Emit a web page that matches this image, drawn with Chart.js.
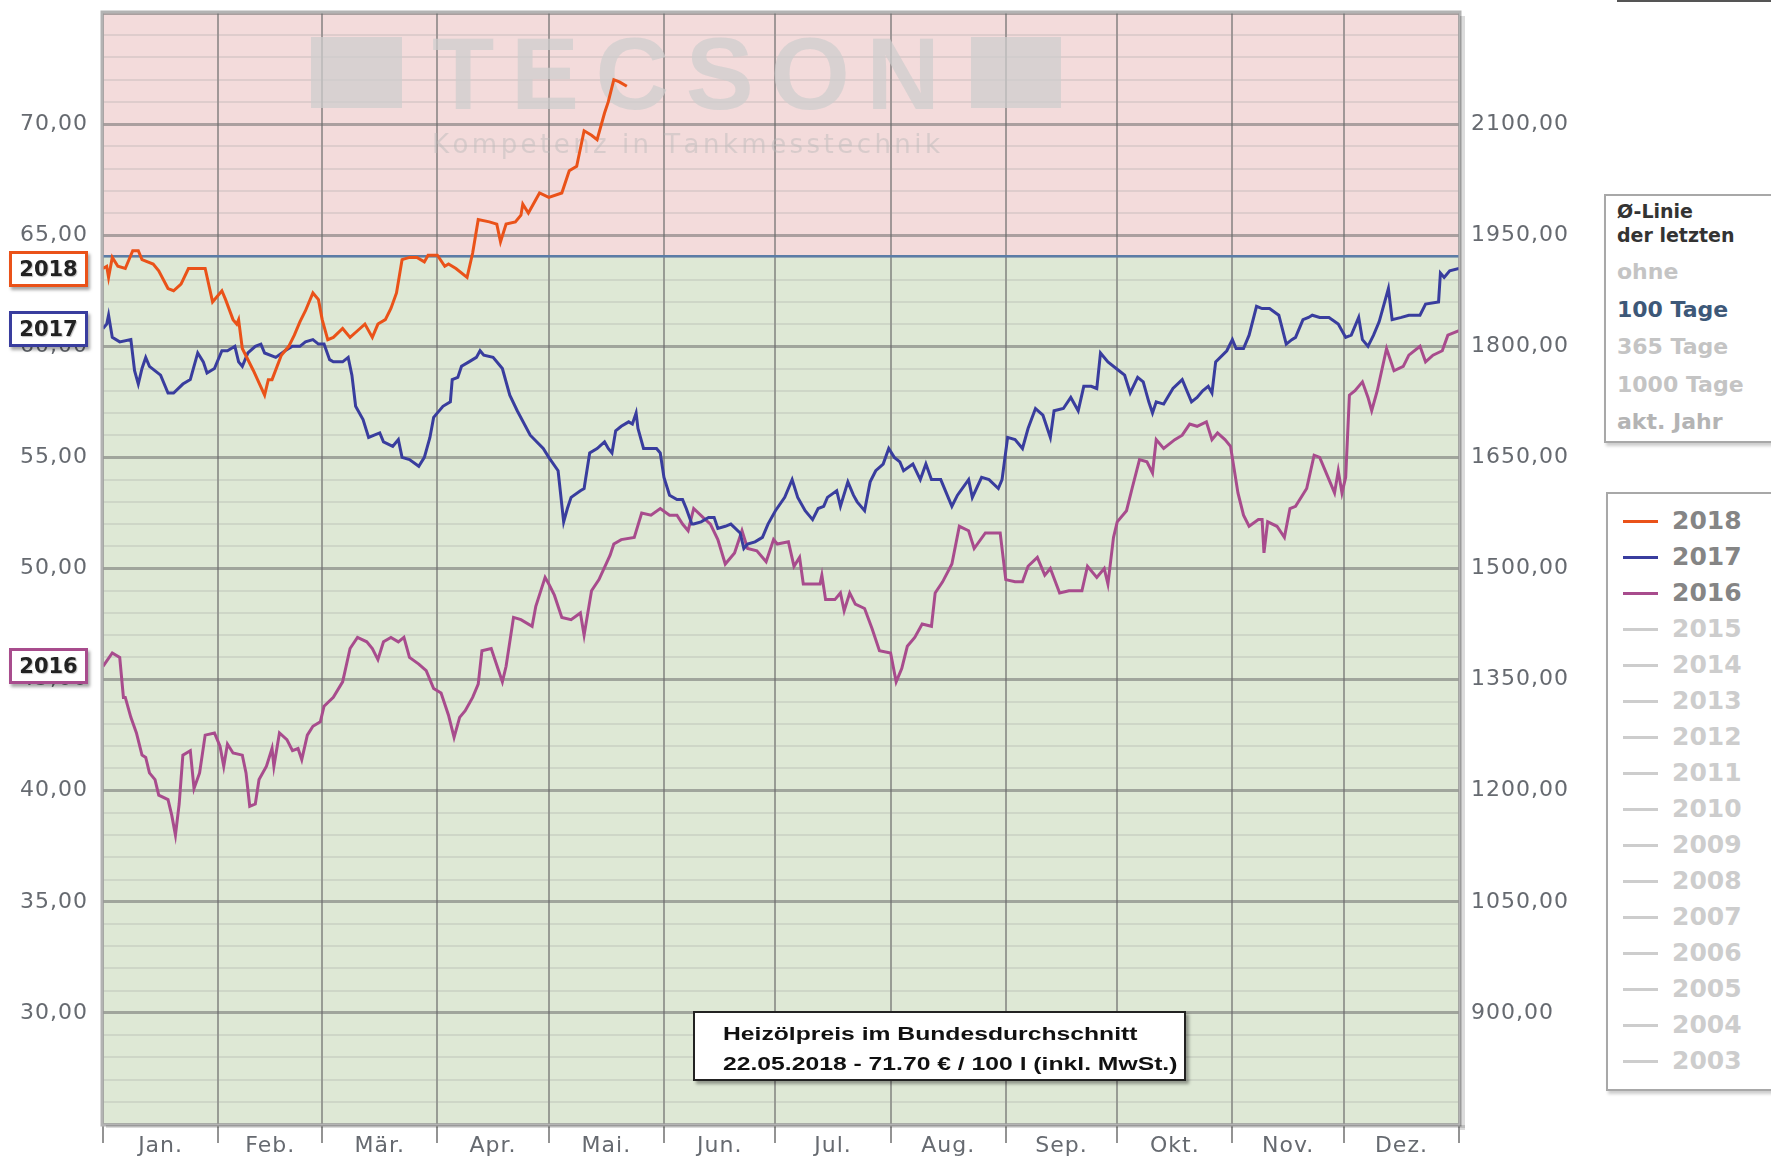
<!DOCTYPE html>
<html lang="de">
<head>
<meta charset="utf-8">
<title>Heizölpreis im Bundesdurchschnitt</title>
<script src="https://cdn.jsdelivr.net/npm/chart.js@4.4.1/dist/chart.umd.min.js"></script>
<style>
    html, body { margin: 0; padding: 0; background: #fff; width: 1771px; height: 1157px; overflow: hidden; font-family: "DejaVu Sans", Verdana, sans-serif; }
    #chart { position: absolute; left: 0; top: 0; }
    .yearTag { position: absolute; left: 9px; width: 79px; height: 36px; box-sizing: border-box; border: 3px solid; background: #fff; color: #222; font: bold 21px "DejaVu Sans", sans-serif; line-height: 30px; text-align: center; box-shadow: 2px 3px 3px rgba(0,0,0,0.35); text-shadow: 1px 1px 1px rgba(0,0,0,0.25); }
    .panel { position: absolute; width: 220px; box-sizing: border-box; border: 2px solid #a8a8a8; background: #fff; box-shadow: 2px 3px 3px rgba(0,0,0,0.2); }
    .panel div { position: absolute; white-space: nowrap; }
    .ph { left: 11px; font: bold 19px "DejaVu Sans", sans-serif; color: #333; line-height: 24px; }
    .pi { left: 11px; font: bold 22px "DejaVu Sans", sans-serif; color: #c4c4c4; line-height: 24px; }
    .ly { left: 64px; font: bold 25px "DejaVu Sans", sans-serif; color: #cdcdcd; line-height: 30px; }
    .ll { left: 15px; width: 35px; height: 3px; background: #cdcdcd; }
    #info { position: absolute; left: 693px; top: 1011px; width: 493px; height: 70px; box-sizing: border-box; border: 2px solid #222; background: #fff; box-shadow: 3px 3px 3px rgba(0,0,0,0.35); }
    #info div { position: absolute; left: 28px; font: bold 19px "Liberation Sans", Arial, sans-serif; color: #111; line-height: 24px; white-space: nowrap; transform: scaleX(1.3); transform-origin: left center; }
    #topbar { position: absolute; left: 1617px; top: 0; width: 154px; height: 2px; background: #555; }
</style>
</head>
<body>
<canvas id="chart" width="1600" height="1157"></canvas>
<div id="topbar"></div>
<div id="info">
    <div style="top:9px">Heizölpreis im Bundesdurchschnitt</div>
    <div style="top:39px">22.05.2018 - 71.70 € / 100 l (inkl. MwSt.)</div>
</div>
<div class="panel" id="avgPanel" style="left:1604px; top:194px; height:249px;"></div>
<div class="panel" id="yearPanel" style="left:1606px; top:492px; height:599px;"></div>
<script>
// Heizölpreis (€/100 l) per day of year
const monthNames = ['Jan.', 'Feb.', 'Mär.', 'Apr.', 'Mai.', 'Jun.', 'Jul.', 'Aug.', 'Sep.', 'Okt.', 'Nov.', 'Dez.'];
const monthStarts = [0, 31, 59, 90, 120, 151, 181, 212, 243, 273, 304, 334, 365];
const leftTicks = [30, 35, 40, 45, 50, 55, 60, 65, 70];
const rightTicks = [900, 1050, 1200, 1350, 1500, 1650, 1800, 1950, 2100];

// Ø-Linie der letzten 100 Tage
const avgLine = [64.05];

const days2018 = [0, 1, 1.5, 2.5, 4, 6, 8, 9.5, 10.5, 13.5,
    15, 17.5, 19, 21, 23, 25.5, 27.5, 29.5, 30.5, 32,
    33, 35, 36, 36.5, 37.5, 40.5, 43.5, 44.5, 45.5, 48,
    50, 51.5, 53, 54.5, 56.5, 58, 59, 60.5, 62, 64.5,
    66.5, 68.5, 70.5, 72.5, 74, 76, 77.5, 79, 80.5, 82.5,
    84.5, 86.5, 87.5, 90, 92, 93, 95, 98, 99.5, 101,
    104, 106, 107, 108.5, 111, 112.5, 113, 114.5, 117.5, 120,
    123.5, 125.5, 127.5, 129.5, 131.5, 133, 135, 136, 137.5, 139,
    141];
const vals2018 = [63.5, 63.6, 63.1, 64.0, 63.6, 63.5, 64.3, 64.3, 63.9, 63.7,
    63.4, 62.6, 62.5, 62.8, 63.5, 63.5, 63.5, 62.0, 62.2, 62.5,
    62.1, 61.2, 61.0, 61.2, 59.9, 58.9, 57.8, 58.5, 58.5, 59.6,
    60.0, 60.5, 61.1, 61.6, 62.4, 62.1, 61.2, 60.3, 60.4, 60.8,
    60.4, 60.7, 61.0, 60.4, 61.0, 61.2, 61.7, 62.4, 63.9, 64.0,
    64.0, 63.8, 64.1, 64.1, 63.6, 63.7, 63.5, 63.1, 64.2, 65.7,
    65.6, 65.5, 64.7, 65.5, 65.6, 65.9, 66.4, 66.0, 66.9, 66.7,
    66.9, 67.9, 68.1, 69.7, 69.5, 69.3, 70.5, 71.0, 72.0, 71.9,
    71.7];

const days2017 = [0, 1, 1.5, 2.5, 4.5, 7.5, 8.5, 9.5, 10.5, 11.5,
    12.5, 15.5, 17.5, 19, 21.5, 23.5, 24, 25.5, 27, 28,
    30, 32, 33.5, 35.5, 36.5, 37.5, 39, 41, 42.5, 43.5,
    46.5, 49, 51, 53, 54.5, 56.5, 58, 59.5, 61, 62,
    64.5, 66, 67, 68, 70, 71.5, 73, 74.5, 75.5, 78,
    79.5, 80.5, 82.5, 85, 86.5, 88, 89, 91.5, 93.5, 94,
    95.5, 96.5, 98.5, 100.5, 101.5, 102.5, 105, 107.5, 109.5, 111.5,
    115, 118.5, 120, 122.5, 124, 125, 126, 128.5, 129.5, 131,
    133, 135, 136, 137, 138, 139.5, 141.5, 142.5, 143.5, 144,
    145.5, 147, 149, 150, 151, 152.5, 154.5, 156, 157, 158.5,
    159, 161, 163, 164.5, 165.5, 167.5, 169, 171.5, 172.5, 173.5,
    175.5, 177.5, 179, 181, 183.5, 185.5, 187, 189, 191, 192.5,
    194, 195, 197.5, 198.5, 200.5, 202, 203, 205, 206.5, 208,
    210, 211.5, 213, 214.5, 215.5, 218, 220, 221.5, 223, 225.5,
    228.5, 230, 233, 234, 236.5, 238.5, 241, 242, 243.5, 245.5,
    247.5, 249, 251, 253, 255, 256, 258.5, 260.5, 262.5, 264,
    266, 267.5, 268.5, 270.5, 273.5, 275, 276.5, 278.5, 280, 281.5,
    282.5, 283.5, 285.5, 288, 290.5, 293, 294.5, 296, 297.5, 298.5,
    299.5, 302.5, 304, 305, 307, 308.5, 310.5, 312, 314, 316.5,
    318.5, 320, 321, 323, 324.5, 325.5, 327.5, 330, 332.5, 334.5,
    336, 338, 339, 340.5, 342, 343.5, 346, 347, 349.5, 351.5,
    354.5, 356, 359.5, 360, 361, 362.5, 365];
const vals2017 = [60.8, 61.0, 61.4, 60.4, 60.2, 60.3, 58.9, 58.3, 59.0, 59.5,
    59.1, 58.7, 57.9, 57.9, 58.3, 58.5, 58.8, 59.7, 59.3, 58.8,
    59.0, 59.8, 59.8, 60.0, 59.3, 59.1, 59.7, 60.0, 60.1, 59.7,
    59.5, 59.8, 60.0, 60.0, 60.2, 60.3, 60.1, 60.1, 59.4, 59.3,
    59.3, 59.5, 58.7, 57.3, 56.7, 55.9, 56.0, 56.1, 55.7, 55.5,
    55.8, 55.0, 54.9, 54.6, 55.0, 55.9, 56.8, 57.3, 57.5, 58.5,
    58.6, 59.1, 59.3, 59.5, 59.8, 59.6, 59.5, 59.0, 57.8, 57.1,
    56.0, 55.4, 55.0, 54.4, 52.1, 52.7, 53.2, 53.5, 53.6, 55.2,
    55.4, 55.7, 55.4, 55.2, 56.2, 56.4, 56.6, 56.5, 57.0, 56.3,
    55.4, 55.4, 55.4, 55.2, 54.1, 53.3, 53.1, 53.1, 52.7, 52.0,
    52.0, 52.1, 52.3, 52.3, 51.8, 51.9, 52.0, 51.6, 50.9, 51.1,
    51.2, 51.4, 52.0, 52.6, 53.2, 54.0, 53.2, 52.6, 52.2, 52.7,
    52.8, 53.2, 53.5, 52.8, 53.9, 53.3, 53.0, 52.6, 53.9, 54.4,
    54.7, 55.4, 55.0, 54.8, 54.4, 54.7, 54.0, 54.7, 54.0, 54.0,
    52.8, 53.3, 54.0, 53.2, 54.1, 54.0, 53.6, 54.0, 55.9, 55.8,
    55.4, 56.3, 57.2, 56.9, 55.9, 57.1, 57.2, 57.7, 57.1, 58.2,
    58.2, 58.1, 59.7, 59.3, 58.9, 58.7, 57.9, 58.6, 58.4, 57.5,
    57.0, 57.5, 57.4, 58.1, 58.5, 57.5, 57.7, 58.0, 58.2, 57.9,
    59.3, 59.8, 60.3, 59.9, 59.9, 60.5, 61.8, 61.7, 61.7, 61.4,
    60.1, 60.3, 60.4, 61.2, 61.3, 61.4, 61.3, 61.3, 61.0, 60.4,
    60.5, 61.3, 60.3, 60.0, 60.5, 61.1, 62.6, 61.2, 61.3, 61.4,
    61.4, 61.9, 62.0, 63.3, 63.1, 63.4, 63.5];

const days2016 = [0, 2.5, 4.5, 5.5, 6, 7.5, 9, 10.5, 11.5, 12.5,
    14, 15, 17.5, 18.5, 19.5, 20.5, 21.5, 23.5, 24.5, 26,
    27.5, 30, 31.5, 32.5, 33.5, 35, 37.5, 38.5, 39.5, 41,
    42, 44, 45.5, 46, 47.5, 49.5, 51, 52.5, 53.5, 55,
    56.5, 58.5, 59.5, 62, 64.5, 66.5, 68.5, 71, 72.5, 74,
    75.5, 77.5, 79.5, 81, 82.5, 85, 87, 89, 91, 93,
    94.5, 96, 97.5, 99.5, 101, 102, 104.5, 106.5, 107.5, 108.5,
    110.5, 112.5, 115.5, 116.5, 119, 120, 121.5, 123.5, 126, 128.5,
    129.5, 131.5, 133.5, 136.5, 137.5, 139.5, 143, 145, 147.5, 150,
    152.5, 154.5, 156, 157.5, 159, 161.5, 163.5, 165.5, 167.5, 170,
    172, 173.5, 176, 178.5, 180.5, 181.5, 184.5, 186, 187.5, 188.5,
    191, 193, 193.5, 194.5, 197, 198.5, 199.5, 201, 202.5, 205,
    207, 209, 212, 213.5, 215, 216.5, 218.5, 220.5, 223, 224,
    226, 228.5, 230.5, 233, 234.5, 237.5, 241.5, 243, 245.5, 247.5,
    249, 251.5, 253.5, 255, 257.5, 260, 263.5, 265, 267.5, 269.5,
    270.5, 272, 273, 275.5, 277, 279, 281, 282.5, 283.5, 285.5,
    288.5, 290.5, 292.5, 294.5, 297, 298.5, 300, 302, 303.5, 305.5,
    307, 308.5, 311, 312, 312.5, 313.5, 316, 318, 319.5, 321,
    324, 326, 327.5, 329.5, 331.5, 332.5, 333.5, 334.5, 335.5, 337,
    339, 340.5, 341.5, 343, 345.5, 347.5, 350, 351.5, 354.5, 356,
    358, 360.5, 362, 365];
const vals2016 = [45.6, 46.2, 46.0, 44.2, 44.2, 43.3, 42.6, 41.6, 41.5, 40.8,
    40.5, 39.8, 39.6, 38.9, 38.0, 39.4, 41.6, 41.8, 40.1, 40.8,
    42.5, 42.6, 42.0, 41.1, 42.1, 41.7, 41.6, 40.8, 39.3, 39.4,
    40.5, 41.1, 41.9, 41.1, 42.6, 42.3, 41.8, 41.9, 41.4, 42.5,
    42.9, 43.1, 43.8, 44.2, 44.9, 46.4, 46.9, 46.7, 46.4, 45.9,
    46.7, 46.9, 46.7, 46.9, 46.0, 45.7, 45.4, 44.6, 44.4, 43.4,
    42.4, 43.3, 43.6, 44.2, 44.8, 46.3, 46.4, 45.4, 44.9, 45.6,
    47.8, 47.7, 47.4, 48.3, 49.6, 49.3, 48.8, 47.8, 47.7, 48.0,
    47.0, 49.0, 49.5, 50.6, 51.1, 51.3, 51.4, 52.5, 52.4, 52.7,
    52.4, 52.4, 52.0, 51.7, 52.7, 52.3, 52.0, 51.3, 50.2, 50.7,
    51.7, 50.9, 50.8, 50.3, 51.3, 51.1, 51.2, 50.1, 50.5, 49.3,
    49.3, 49.3, 49.7, 48.6, 48.6, 48.9, 48.1, 48.9, 48.4, 48.2,
    47.3, 46.3, 46.2, 44.9, 45.5, 46.5, 46.9, 47.5, 47.4, 48.9,
    49.4, 50.2, 51.9, 51.7, 50.9, 51.6, 51.6, 49.5, 49.4, 49.4,
    50.1, 50.5, 49.7, 50.0, 48.9, 49.0, 49.0, 50.1, 49.6, 50.0,
    49.3, 51.4, 52.1, 52.6, 53.6, 54.9, 54.8, 54.3, 55.8, 55.4,
    55.8, 56.0, 56.5, 56.4, 56.6, 55.8, 56.1, 55.8, 55.5, 53.4,
    52.4, 51.9, 52.2, 52.2, 50.7, 52.1, 51.9, 51.4, 52.7, 52.8,
    53.6, 55.1, 55.0, 54.2, 53.4, 54.4, 53.4, 54.1, 57.8, 58.0,
    58.4, 57.7, 57.1, 58.0, 59.9, 58.9, 59.1, 59.6, 60.0, 59.3,
    59.6, 59.8, 60.5, 60.7];

// Legend lists
const legendYears = ['2018', '2017', '2016', '2015', '2014', '2013', '2012', '2011', '2010', '2009', '2008', '2007', '2006', '2005', '2004', '2003'];
const avgOptions = ['ohne', '100 Tage', '365 Tage', '1000 Tage', 'akt. Jahr'];

const COLORS = { '2018': '#ea5219', '2017': '#393d9e', '2016': '#a84c8d' };
const AVG_COLOR = '#5b7ca6';

const fmt = v => v.toFixed(2).replace('.', ',');
const toPoints = (days, vals) => days.map((d, i) => ({ x: d, y: vals[i] }));

// Draws text spread out to a given width (watermark)
function drawSpaced(ctx, text, font, x, y, width) {
    ctx.font = font;
    ctx.letterSpacing = '0px';
    ctx.textAlign = 'left';
    ctx.textBaseline = 'alphabetic';
    const chars = [...text];
    const widths = chars.map(c => ctx.measureText(c).width);
    const total = widths.reduce((s, w) => s + w, 0);
    const gap = (width - total) / (chars.length - 1);
    chars.forEach((c, i) => {
        ctx.fillText(c, x, y);
        x += widths[i] + gap;
    });
}

const tecsonPlugin = {
    id: 'tecson',
    beforeDraw(chart) {
        const { ctx, chartArea: a, scales } = chart;
        const yAvg = scales.y.getPixelForValue(avgLine[0]);
        ctx.save();
        ctx.fillStyle = '#f3dbdb';
        ctx.fillRect(a.left, a.top, a.width, yAvg - a.top);
        ctx.fillStyle = '#dee8d5';
        ctx.fillRect(a.left, yAvg, a.width, a.bottom - yAvg);
        ctx.restore();
        ctx.letterSpacing = '1px';
    },
    beforeDatasetsDraw(chart) {
        const ctx = chart.ctx;
        ctx.save();
        ctx.fillStyle = 'rgba(205,205,205,0.72)';
        ctx.fillRect(311, 37, 91, 71);
        ctx.fillRect(971, 37, 90, 71);
        drawSpaced(ctx, 'TECSON', 'bold 102px "Liberation Sans", Arial, sans-serif', 432, 109, 508);
        ctx.fillStyle = 'rgba(185,185,185,0.45)';
        drawSpaced(ctx, 'Kompetenz in Tankmesstechnik', '26px "DejaVu Sans", sans-serif', 432, 153, 508);
        ctx.restore();
        ctx.letterSpacing = '1px';
    },
    afterDraw(chart) {
        const { ctx, chartArea: a } = chart;
        ctx.save();
        ctx.strokeStyle = '#b3b3b3';
        ctx.lineWidth = 3;
        ctx.strokeRect(a.left - 1, a.top - 1, a.width + 2, a.height + 2);
        ctx.fillStyle = 'rgba(0,0,0,0.14)';
        ctx.fillRect(a.right + 1, a.top + 3, 5, a.height + 3);
        ctx.fillRect(a.left + 3, a.bottom + 1, a.width + 3, 3);
        ctx.restore();
    }
};

const lineStyle = color => ({
    borderColor: color,
    backgroundColor: color,
    borderWidth: 3,
    pointRadius: 0,
    showLine: true,
    tension: 0,
    fill: false
});

const chart = new Chart(document.getElementById('chart'), {
    type: 'scatter',
    data: {
        datasets: [
            { label: '2018', data: toPoints(days2018, vals2018), ...lineStyle(COLORS['2018']) },
            { label: '2017', data: toPoints(days2017, vals2017), ...lineStyle(COLORS['2017']) },
            { label: '2016', data: toPoints(days2016, vals2016), ...lineStyle(COLORS['2016']) },
            {
                label: 'Ø 100 Tage',
                data: [{ x: monthStarts[0], y: avgLine[0] }, { x: monthStarts[12], y: avgLine[0] }],
                ...lineStyle(AVG_COLOR),
                borderWidth: 2.5
            }
        ]
    },
    options: {
        responsive: false,
        animation: false,
        events: [],
        layout: { padding: { top: 13, left: 0, right: 0, bottom: 0 } },
        plugins: { legend: { display: false }, tooltip: { enabled: false } },
        scales: {
            x: {
                type: 'linear',
                position: 'bottom',
                min: 0,
                max: 365,
                afterBuildTicks: s => { s.ticks = monthStarts.map(v => ({ value: v })); },
                // tick marks still run 19px below the plot; the box is kept short so the month labels fit
                afterFit: s => { s.height = 8; s.paddingLeft = 0; s.paddingRight = 0; },
                ticks: { display: false },
                grid: { color: 'rgba(105,105,105,0.6)', lineWidth: 2, drawTicks: true, tickLength: 19, tickColor: 'rgba(120,120,120,0.8)', tickWidth: 2 },
                border: { display: false }
            },
            xMonths: {
                type: 'linear',
                position: 'bottom',
                min: 0,
                max: 365,
                afterBuildTicks: s => {
                    s.ticks = monthNames.map((m, i) => ({ value: (monthStarts[i] + monthStarts[i + 1]) / 2 }));
                },
                afterFit: s => { s.height = 25; s.paddingLeft = 0; s.paddingRight = 0; },
                ticks: {
                    autoSkip: false,
                    maxRotation: 0,
                    padding: 3,
                    color: '#666a70',
                    font: { family: '"DejaVu Sans", sans-serif', size: 22, lineHeight: 1 },
                    callback: (v, i) => monthNames[i]
                },
                grid: { display: false, drawTicks: false },
                border: { display: false }
            },
            y: {
                position: 'left',
                min: 25,
                max: 75,
                afterFit: s => { s.width = 103; s.paddingTop = 0; s.paddingBottom = 0; },
                ticks: {
                    stepSize: 1,
                    autoSkip: false,
                    padding: 15,
                    color: '#666a70',
                    font: { family: '"DejaVu Sans", sans-serif', size: 22 },
                    callback: v => leftTicks.includes(v) ? fmt(v) : ''
                },
                grid: {
                    drawTicks: false,
                    color: c => (c.tick && c.tick.value % 5 === 0) ? 'rgba(110,110,110,0.55)' : 'rgba(150,150,150,0.22)',
                    lineWidth: c => (c.tick && c.tick.value % 5 === 0) ? 3 : 2
                },
                border: { display: false }
            },
            yRight: {
                position: 'right',
                min: 750,
                max: 2250,
                afterFit: s => { s.width = 141; s.paddingTop = 0; s.paddingBottom = 0; },
                ticks: {
                    stepSize: 150,
                    autoSkip: false,
                    padding: 12,
                    color: '#666a70',
                    font: { family: '"DejaVu Sans", sans-serif', size: 22 },
                    callback: v => rightTicks.includes(v) ? fmt(v) : ''
                },
                grid: { display: false, drawTicks: false },
                border: { display: false }
            }
        }
    },
    plugins: [tecsonPlugin]
});

// Year tags at the start value of each year
[['2018', days2018, vals2018], ['2017', days2017, vals2017], ['2016', days2016, vals2016]].forEach(([year, d, v]) => {
    const tag = document.createElement('div');
    tag.className = 'yearTag';
    tag.textContent = year;
    tag.style.borderColor = COLORS[year];
    tag.style.top = (chart.scales.y.getPixelForValue(v[0]) - 18) + 'px';
    document.body.appendChild(tag);
});

// Ø-Linie panel
const avgPanel = document.getElementById('avgPanel');
avgPanel.innerHTML = '<div class="ph" style="top:3px">Ø-Linie</div><div class="ph" style="top:27px">der letzten</div>' +
    avgOptions.map((o, i) => {
        const col = o === '100 Tage' ? '#3d5878' : (o === 'akt. Jahr' ? '#b4b4b4' : '#c4c4c4');
        return `<div class="pi" style="top:${64 + i * 37.5}px; color:${col}">${o}</div>`;
    }).join('');

// Year legend panel
const yearPanel = document.getElementById('yearPanel');
yearPanel.innerHTML = legendYears.map((y, i) => {
    const active = COLORS[y];
    return `<div class="ll" style="top:${26 + i * 36}px; background:${active || '#cdcdcd'}"></div>` +
        `<div class="ly" style="top:${12 + i * 36}px; color:${active ? '#858585' : '#cdcdcd'}">${y}</div>`;
}).join('');
</script>
</body>
</html>
